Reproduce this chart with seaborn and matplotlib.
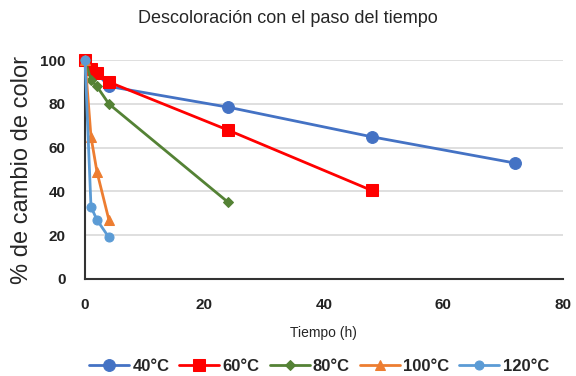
import matplotlib
matplotlib.use("Agg")
import matplotlib.pyplot as plt
import seaborn as sns
import pandas as pd

sns.set_theme(style="white")
plt.rcParams['font.family'] = ['Liberation Sans', 'DejaVu Sans']

series_names = ["40°C", "60°C", "80°C", "100°C", "120°C"]
t_40 = [0, 4, 24, 48, 72]
v_40 = [100, 88, 78.5, 65, 53]
t_60 = [0, 1, 2, 4, 24, 48]
v_60 = [100, 96, 94, 90, 68, 40.5]
t_80 = [0, 1, 2, 4, 24]
v_80 = [100, 91, 88, 80, 35]
t_100 = [0, 1, 2, 4]
v_100 = [100, 65, 49, 27]
t_120 = [0, 1, 2, 4]
v_120 = [100, 33, 27, 19]
x_ticks = [0, 20, 40, 60, 80]
y_ticks = [0, 20, 40, 60, 80, 100]

times = [t_40, t_60, t_80, t_100, t_120]
vals = [v_40, v_60, v_80, v_100, v_120]
colors = ["#4472C4", "#FF0000", "#548235", "#ED7D31", "#5B9BD5"]
markers = ["o", "s", "D", "^", "o"]
msizes = [8.5, 8.5, 5.5, 7, 6.5]

fig = plt.figure(figsize=(5.76, 3.76), dpi=100)
ax = fig.add_axes([0.1476, 0.258, 0.829, 0.582])

for name, t, v, c, m, ms in zip(series_names, times, vals, colors, markers, msizes):
    df = pd.DataFrame({"t": t, "v": v})
    sns.lineplot(data=df, x="t", y="v", ax=ax, color=c, marker=m, markersize=ms,
                 linewidth=2, markeredgecolor=c, label=name, clip_on=False, zorder=3)

ax.set_xlim(0, 80)
ax.set_ylim(0, 100)
ax.set_xticks(x_ticks)
ax.set_yticks(y_ticks)
ax.set_xticklabels([str(x) for x in x_ticks], fontsize=11, fontweight="bold", color="#222222")
ax.set_yticklabels([str(y) for y in y_ticks], fontsize=11, fontweight="bold", color="#222222")
ax.tick_params(axis="x", length=0, pad=14)
ax.tick_params(axis="y", length=0, pad=14)
ax.yaxis.grid(True, color="#d9d9d9", linewidth=1.2)
ax.set_axisbelow(True)
for s in ["top", "right"]:
    ax.spines[s].set_visible(False)
for s in ["left", "bottom"]:
    ax.spines[s].set_color("#333333")
    ax.spines[s].set_linewidth(1.5)

ax.set_xlabel("Tiempo (h)", fontsize=10, labelpad=10)
ax.set_ylabel("% de cambio de color", fontsize=17, labelpad=5)
fig.text(0.5, 0.952, "Descoloración con el paso del tiempo", ha="center", va="center", fontsize=13)

ax.legend(loc="center", bbox_to_anchor=(0.49, -0.40), ncol=5, frameon=False,
          prop={"weight": "bold", "size": 12}, handlelength=2.4, handletextpad=0.2,
          columnspacing=0.6)

fig.savefig("out.png", dpi=100)
